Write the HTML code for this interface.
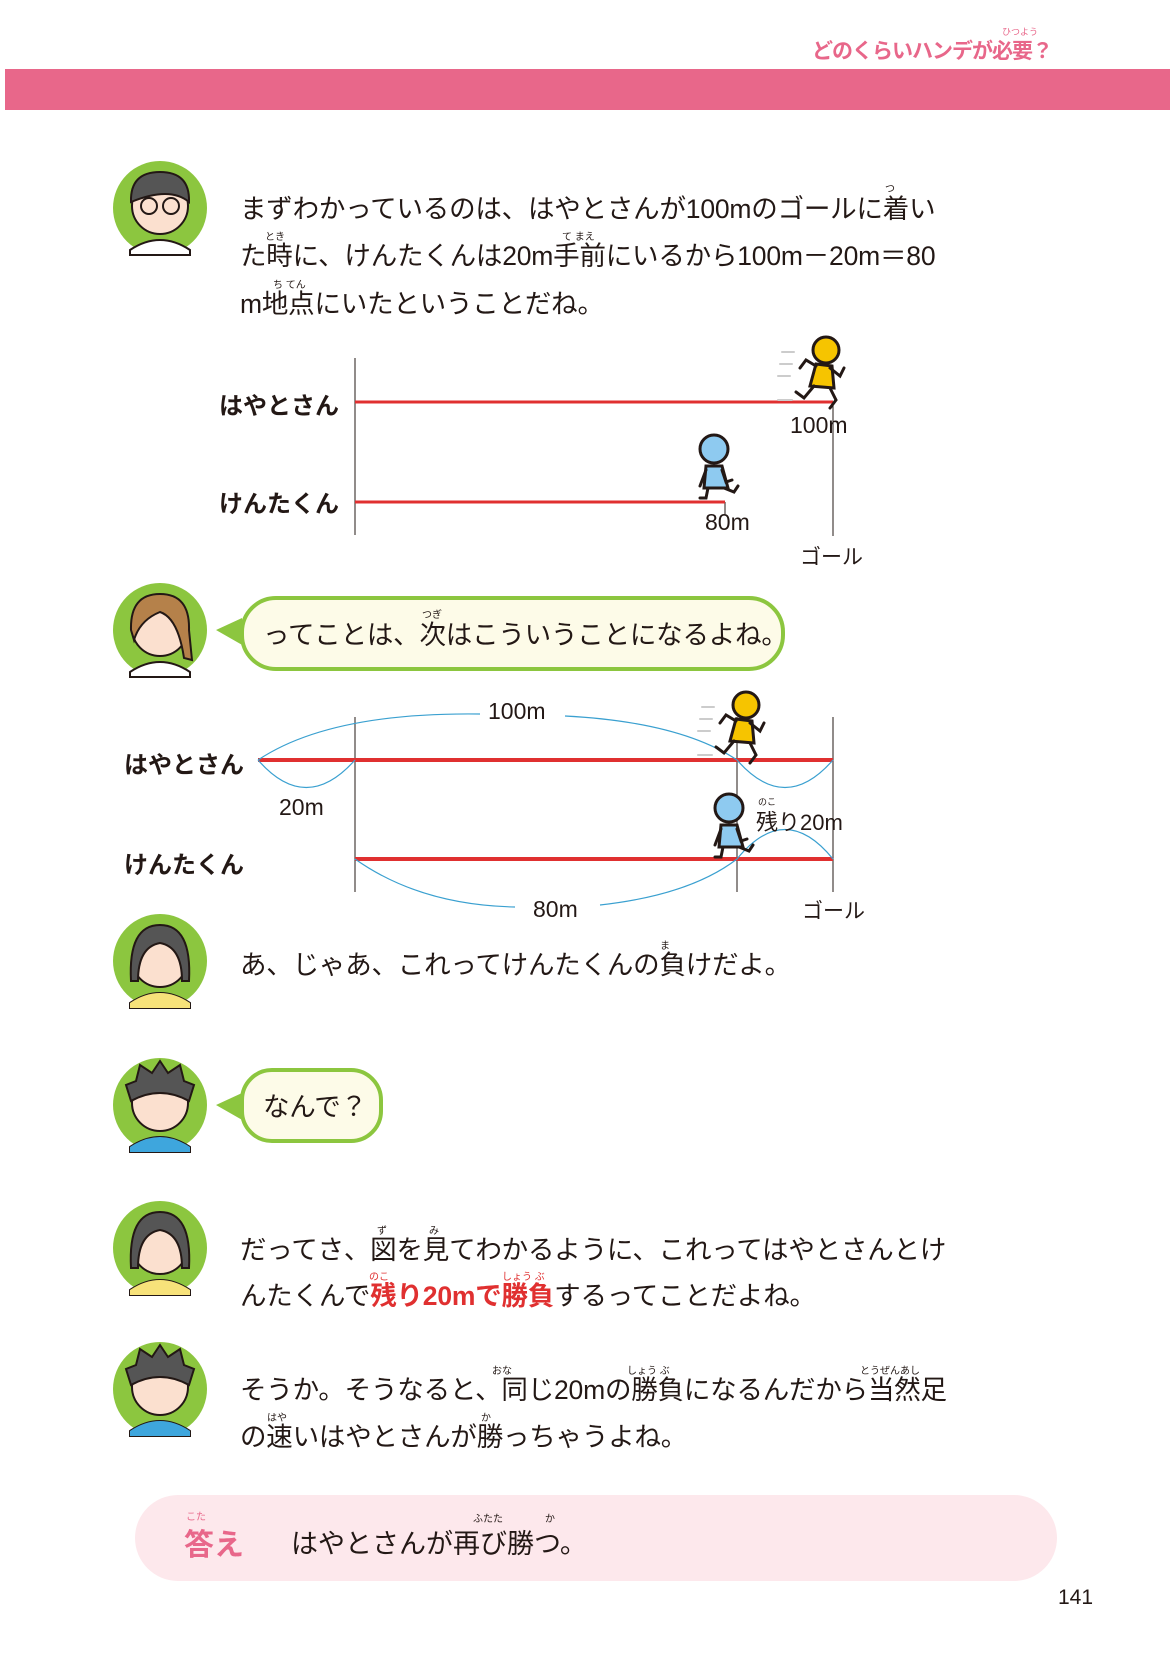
<!DOCTYPE html>
<html><head><meta charset="utf-8">
<style>
body{margin:0;width:1170px;height:1653px;position:relative;background:#fff;font-family:"Liberation Sans","Noto Sans CJK JP",sans-serif;color:#231815;overflow:hidden}
.a{position:absolute;white-space:nowrap}
.t{font-size:26.5px;line-height:30px;letter-spacing:-0.2px}
.r{position:absolute;font-size:10px;white-space:nowrap}
.lbl{font-size:24px;font-weight:bold}
.red{color:#e03030;font-weight:bold}
</style></head><body>
<div class="a" style="left:812px;top:35px;font-size:21px;font-weight:bold;color:#e8678a;letter-spacing:-1px">どのくらいハンデが必要？</div>
<div class="r" style="left:1002px;top:25px;color:#e8678a;font-size:9px">ひつよう</div>
<div class="a" style="left:5px;top:69px;width:1165px;height:41px;background:#e8678a"></div>

<svg class="a" style="left:0;top:0" width="1170" height="1653">
<defs>
<g id="av"><circle r="47" fill="#8cc63f"/><circle cx="0" cy="-2" r="28" fill="#fbe0cf" stroke="#231815" stroke-width="2"/><path d="M-30,42 Q0,22 30,42 L30,47 L-30,47Z" fill="#fff" stroke="#231815" stroke-width="2"/></g>
</defs>
<g transform="translate(160,208)"><use href="#av"/><path d="M-29,-6 Q-30,-36 0,-36 Q30,-36 29,-6 Q10,-22 -29,-6Z" fill="#555" stroke="#231815" stroke-width="2"/><circle cx="-11" cy="-2" r="8" fill="none" stroke="#231815" stroke-width="2"/><circle cx="11" cy="-2" r="8" fill="none" stroke="#231815" stroke-width="2"/></g>
<g transform="translate(160,630)"><use href="#av"/><path d="M-29,0 Q-30,-36 0,-36 Q30,-36 29,0 L32,30 L24,28 Q18,-12 0,-18 Q-20,-10 -26,10Z" fill="#b5814a" stroke="#231815" stroke-width="2"/></g>
<g transform="translate(160,961)"><use href="#av"/><path d="M-29,20 Q-32,-36 0,-36 Q32,-36 29,20 L22,20 Q22,-14 0,-18 Q-22,-14 -22,20Z" fill="#555" stroke="#231815" stroke-width="2"/><path d="M-30,42 Q0,22 30,42 L30,47 L-30,47Z" fill="#f7e27a"/></g>
<g transform="translate(160,1105)"><use href="#av"/><path d="M-29,-4 L-34,-20 L-24,-24 L-20,-40 L-8,-32 L0,-44 L8,-32 L20,-40 L24,-24 L34,-20 L29,-4 Q0,-20 -29,-4Z" fill="#555" stroke="#231815" stroke-width="2"/><path d="M-30,42 Q0,22 30,42 L30,47 L-30,47Z" fill="#3ea6dd"/></g>
<g transform="translate(160,1248)"><use href="#av"/><path d="M-29,20 Q-32,-36 0,-36 Q32,-36 29,20 L22,20 Q22,-14 0,-18 Q-22,-14 -22,20Z" fill="#555" stroke="#231815" stroke-width="2"/><path d="M-30,42 Q0,22 30,42 L30,47 L-30,47Z" fill="#f7e27a"/></g>
<g transform="translate(160,1389)"><use href="#av"/><path d="M-29,-4 L-34,-20 L-24,-24 L-20,-40 L-8,-32 L0,-44 L8,-32 L20,-40 L24,-24 L34,-20 L29,-4 Q0,-20 -29,-4Z" fill="#555" stroke="#231815" stroke-width="2"/><path d="M-30,42 Q0,22 30,42 L30,47 L-30,47Z" fill="#3ea6dd"/></g>

<path d="M242,618 L216,630 L244,646Z" fill="#8cc63f"/>
<rect x="242" y="598" width="541" height="71" rx="34" fill="#fdfbe8" stroke="#8cc63f" stroke-width="4"/>
<path d="M242,1093 L216,1105 L244,1121Z" fill="#8cc63f"/>
<rect x="242" y="1070" width="139" height="71" rx="30" fill="#fdfbe8" stroke="#8cc63f" stroke-width="4"/>

<line x1="355" y1="358" x2="355" y2="535" stroke="#231815" stroke-width="1"/>
<line x1="833" y1="402" x2="833" y2="536" stroke="#231815" stroke-width="1"/>
<line x1="725" y1="502" x2="725" y2="514" stroke="#231815" stroke-width="1"/>
<line x1="355" y1="402" x2="833" y2="402" stroke="#e03030" stroke-width="3"/>
<line x1="355" y1="502" x2="725" y2="502" stroke="#e03030" stroke-width="3"/>

<line x1="355" y1="717" x2="355" y2="892" stroke="#231815" stroke-width="1"/>
<line x1="737" y1="717" x2="737" y2="892" stroke="#231815" stroke-width="1"/>
<line x1="833" y1="717" x2="833" y2="892" stroke="#231815" stroke-width="1"/>
<line x1="258" y1="760" x2="833" y2="760" stroke="#e03030" stroke-width="4"/>
<line x1="355" y1="859" x2="833" y2="859" stroke="#e03030" stroke-width="4"/>
<g fill="none" stroke="#3aa0d0" stroke-width="1.2">
<path d="M258,760 Q330,712 480,714"/><path d="M565,716 Q680,722 737,760"/>
<path d="M258,760 Q306,815 355,760"/>
<path d="M737,760 Q785,815 833,760"/>
<path d="M737,859 Q785,800 833,859"/>
<path d="M355,859 Q420,905 515,907"/><path d="M600,905 Q690,895 737,859"/>
</g>

<g id="yel" transform="translate(824,370)" stroke="#231815" stroke-width="3" stroke-linecap="round" fill="none">
<g stroke="#ccc" stroke-width="2"><line x1="-42" y1="-18" x2="-30" y2="-18"/><line x1="-44" y1="-6" x2="-32" y2="-6"/><line x1="-46" y1="6" x2="-34" y2="6"/><line x1="-46" y1="30" x2="-32" y2="30"/></g>
<circle cx="2" cy="-20" r="13" fill="#f6c400"/>
<path d="M-8,-6 L8,-4 L10,18 L-14,16Z" fill="#f6c400"/>
<path d="M-8,-4 L-18,-10 L-24,-2"/><path d="M6,-2 L16,6 L20,-2"/>
<path d="M-10,16 L-20,28 L-28,22"/><path d="M6,18 L12,30 L6,38"/>
</g>
<g transform="translate(718,466)" stroke="#231815" stroke-width="3" stroke-linecap="round" fill="none">
<circle cx="-4" cy="-17" r="14" fill="#8ecaf0"/>
<path d="M-12,0 L4,0 L10,22 L-14,22Z" fill="#8ecaf0"/>
<path d="M-12,4 L-18,20"/><path d="M4,4 L8,16 L14,14"/>
<path d="M-10,22 L-12,32 L-18,32"/><path d="M6,22 L16,26 L20,20"/>
</g>
<use href="#yel" transform="translate(-80,355)"/>
<g transform="translate(733,825)" stroke="#231815" stroke-width="3" stroke-linecap="round" fill="none">
<circle cx="-4" cy="-17" r="14" fill="#8ecaf0"/>
<path d="M-12,0 L4,0 L10,22 L-14,22Z" fill="#8ecaf0"/>
<path d="M-12,4 L-18,20"/><path d="M4,4 L8,16 L14,14"/>
<path d="M-10,22 L-12,32 L-18,32"/><path d="M6,22 L16,26 L20,20"/>
</g>

<rect x="135" y="1495" width="922" height="86" rx="43" fill="#fde8ec"/>
</svg>

<div class="a t" style="left:240px;top:194px">まずわかっているのは、はやとさんが100mのゴールに着い</div>
<div class="r" style="left:885px;top:180px">つ</div>
<div class="a t" style="left:240px;top:241px">た時に、けんたくんは20m手前にいるから100m－20m＝80</div>
<div class="r" style="left:265px;top:228px">とき</div><div class="r" style="left:562px;top:228px">て まえ</div>
<div class="a t" style="left:240px;top:289px">m地点にいたということだね。</div>
<div class="r" style="left:273px;top:276px">ち てん</div>

<div class="a lbl" style="left:219px;top:386px">はやとさん</div>
<div class="a lbl" style="left:219px;top:484px">けんたくん</div>
<div class="a" style="left:790px;top:412px;font-size:23px">100m</div>
<div class="a" style="left:705px;top:509px;font-size:23px">80m</div>
<div class="a" style="left:800px;top:541px;font-size:21px">ゴール</div>

<div class="a t" style="left:263px;top:620px">ってことは、次はこういうことになるよね。</div>
<div class="r" style="left:422px;top:606px">つぎ</div>

<div class="a lbl" style="left:124px;top:745px">はやとさん</div>
<div class="a lbl" style="left:124px;top:845px">けんたくん</div>
<div class="a" style="left:488px;top:698px;font-size:23px">100m</div>
<div class="a" style="left:279px;top:794px;font-size:23px">20m</div>
<div class="a" style="left:533px;top:896px;font-size:23px">80m</div>
<div class="a" style="left:756px;top:805px;font-size:22px">残り20m</div>
<div class="r" style="left:758px;top:795px;font-size:9px">のこ</div>
<div class="a" style="left:802px;top:895px;font-size:21px">ゴール</div>

<div class="a t" style="left:240px;top:950px">あ、じゃあ、これってけんたくんの負けだよ。</div>
<div class="r" style="left:660px;top:937px">ま</div>

<div class="a t" style="left:263px;top:1092px">なんで？</div>

<div class="a t" style="left:240px;top:1235px">だってさ、図を見てわかるように、これってはやとさんとけ</div>
<div class="r" style="left:377px;top:1222px">ず</div><div class="r" style="left:429px;top:1222px">み</div>
<div class="a t" style="left:240px;top:1281px">んたくんで<span class="red">残り20mで勝負</span>するってことだよね。</div>
<div class="r" style="left:369px;top:1268px;color:#e03030">のこ</div><div class="r" style="left:502px;top:1268px;color:#e03030">しょう ぶ</div>

<div class="a t" style="left:240px;top:1375px">そうか。そうなると、同じ20mの勝負になるんだから当然足</div>
<div class="r" style="left:492px;top:1362px">おな</div><div class="r" style="left:627px;top:1362px">しょう ぶ</div><div class="r" style="left:860px;top:1362px">とうぜんあし</div>
<div class="a t" style="left:240px;top:1422px">の速いはやとさんが勝っちゃうよね。</div>
<div class="r" style="left:267px;top:1409px">はや</div><div class="r" style="left:481px;top:1409px">か</div>

<div class="a" style="left:184px;top:1520px;font-size:30px;font-weight:bold;color:#e8678a">答え</div>
<div class="r" style="left:186px;top:1508px;color:#e8678a">こた</div>
<div class="a" style="left:291px;top:1522px;font-size:27px">はやとさんが再び勝つ。</div>
<div class="r" style="left:473px;top:1510px">ふたた</div><div class="r" style="left:545px;top:1510px">か</div>

<div class="a" style="left:1058px;top:1586px;font-size:21px">141</div>
</body></html>
